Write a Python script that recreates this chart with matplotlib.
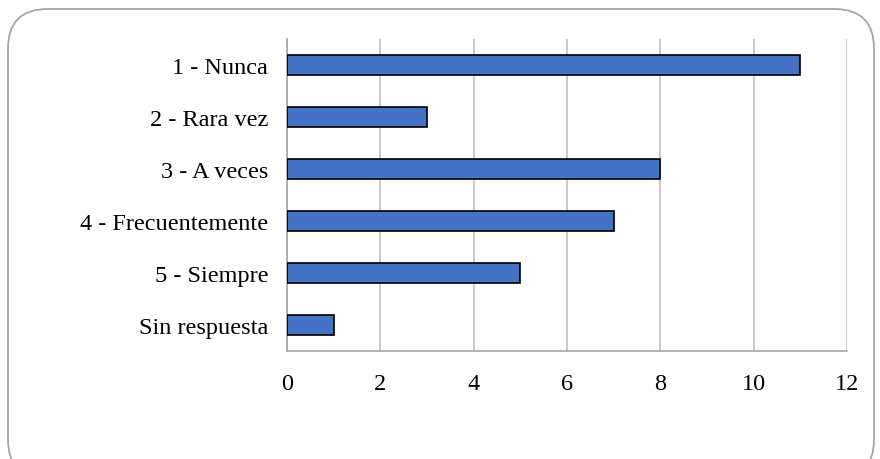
import matplotlib.pyplot as plt
from matplotlib.patches import FancyBboxPatch

categories = ['1 - Nunca', '2 - Rara vez', '3 - A veces', '4 - Frecuentemente',
              '5 - Siempre', 'Sin respuesta']
values = [11, 3, 8, 7, 5, 1]
xticks = [0, 2, 4, 6, 8, 10, 12]

plt.rcParams['font.family'] = ['Liberation Serif', 'DejaVu Serif']

fig = plt.figure(figsize=(8.8, 4.6), dpi=100)

# rounded outer frame
frame = FancyBboxPatch((8 / 880, -20 / 460), 866 / 880, 470 / 460,
                       boxstyle='round,pad=0,rounding_size=0.045',
                       transform=fig.transFigure, facecolor='none',
                       edgecolor='#a6a6a6', linewidth=1.3,
                       mutation_aspect=880 / 460, zorder=-1)
fig.patches.append(frame)

ax = fig.add_axes([287 / 880, 1 - 352 / 460, 560 / 880, 312 / 460])
ax.set_facecolor('none')

y = list(range(len(categories)))
ax.barh(y, values, height=0.4, color='#4472c4', edgecolor='black',
        linewidth=1.2, zorder=3)
ax.set_yticks(y)
ax.set_yticklabels(categories)
ax.set_ylim(len(categories) - 0.5, -0.5)
ax.set_xlim(0, 12)
ax.set_xticks(xticks)

ax.grid(axis='x', color='#bfbfbf', linewidth=1.2, zorder=0)
for s in ['top', 'right']:
    ax.spines[s].set_visible(False)
ax.spines['left'].set_color('#a6a6a6')
ax.spines['bottom'].set_color('#a6a6a6')
ax.spines['left'].set_linewidth(1.2)
ax.spines['bottom'].set_linewidth(1.2)
ax.tick_params(axis='both', length=0, labelsize=17.5, colors='black')
ax.tick_params(axis='x', pad=16)
ax.tick_params(axis='y', pad=13.5)

fig.savefig('out.png', dpi=100)
